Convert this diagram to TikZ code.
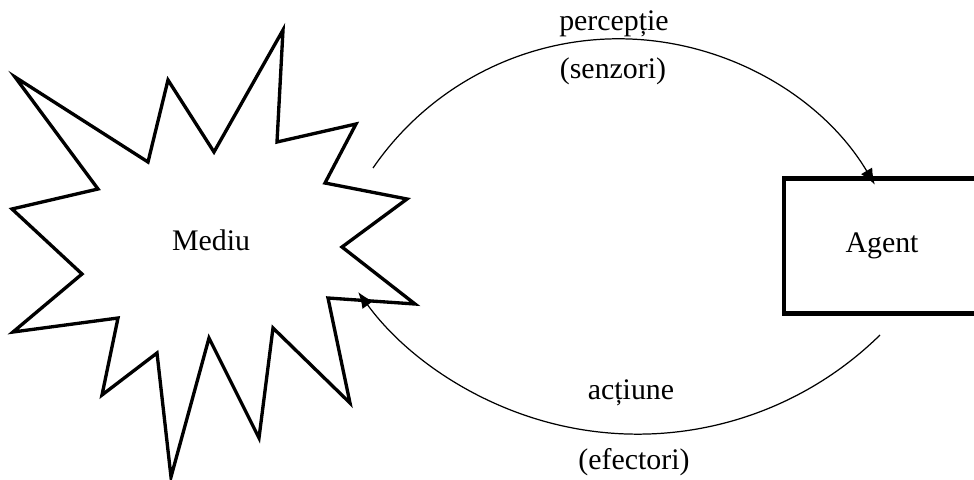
\documentclass[tikz,border=0pt]{standalone}
\usepackage{fontspec}
\setmainfont{Liberation Serif}
\usetikzlibrary{arrows.meta}

\begin{document}
\begin{tikzpicture}[x=0.02cm, y=-0.02cm,
    every node/.style={font=\fontsize{17}{20}\selectfont},
    flow/.style={line width=0.7pt, -{Latex[length=3.2mm, width=2.6mm]}}]
  \useasboundingbox (0,0) rectangle (974,480);
  % environment (starburst)
  \draw[line width=1.9pt] (15,77) -- (148,162) -- (168,80) -- (214,152) -- (283,30)
    -- (277,142) -- (356,124) -- (325,183) -- (407,199) -- (342,247) -- (415,304)
    -- (328,298) -- (350,403) -- (273,328) -- (259,438) -- (209,338) -- (171,477)
    -- (157,353) -- (102,395) -- (118,318) -- (13,332) -- (82,274) -- (12,209)
    -- (98,189) -- cycle;
  \node (mediu) at (211,240) {Mediu};
  \node[draw, line width=2.6pt, minimum width=3.92cm, minimum height=2.7cm] (agent) at (882,246) {Agent};
  % perception arc
  \coordinate (pstart) at (373,168);
  \draw[flow] (pstart) arc[start angle=-145.5, end angle=-30.7, radius=298];
  \node (percep) at (614,24) {percepție};
  \node (senz) at (613,71) {(senzori)};
  % action arc
  \coordinate (astart) at (880,335);
  \draw[flow] (astart) arc[start angle=45.5, end angle=143.9, radius=345.8];
  \node (actiune) at (631,393) {acțiune};
  \node (efect) at (634,462) {(efectori)};
\end{tikzpicture}
\end{document}
